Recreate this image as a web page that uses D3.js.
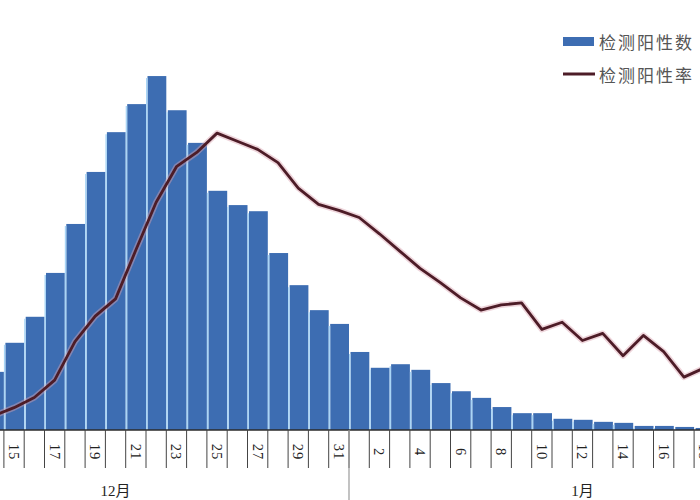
<!DOCTYPE html>
<html><head><meta charset="utf-8">
<script src="https://cdn.jsdelivr.net/npm/d3@7"></script>
<style>
html,body{margin:0;padding:0;background:#fff;overflow:hidden;}
svg{display:block;}
</style></head>
<body>
<script>
// categories: dates (month/day) visible in the chart
const categories = [
  "12/14","12/15","12/16","12/17","12/18","12/19","12/20","12/21","12/22","12/23",
  "12/24","12/25","12/26","12/27","12/28","12/29","12/30","12/31",
  "1/1","1/2","1/3","1/4","1/5","1/6","1/7","1/8","1/9","1/10",
  "1/11","1/12","1/13","1/14","1/15","1/16","1/17","1/18"
];
// 检测阳性数 (万)
const positiveCount = [
  11.4,17.1,22.2,30.8,40.4,50.6,58.4,63.9,69.4,62.7,
  56.3,46.9,44.1,42.9,34.7,28.4,23.5,20.8,
  15.3,12.2,12.9,11.8,9.2,7.6,6.3,4.5,3.3,3.3,
  2.2,2.0,1.6,1.4,0.8,0.8,0.6,0.4
];
// 检测阳性率 (%)
const positiveRate = [
  1.4,2.2,3.2,4.9,8.7,11.2,12.9,17.7,22.4,25.9,
  27.3,29.2,28.4,27.6,26.3,23.8,22.2,21.6,
  20.9,19.3,17.6,15.9,14.5,13.0,11.8,12.3,12.5,9.9,
  10.6,8.8,9.5,7.3,9.3,7.7,5.2,6.1
];
// tick labels shown on the axis
const tickLabels = [
  "12/15","12/17","12/19","12/21","12/23","12/25","12/27","12/29","12/31",
  "1/2","1/4","1/6","1/8","1/10","1/12","1/14","1/16","1/18"
];
const monthLabels = ["12月","1月"];
const monthAnchors = ["12/20","1/12"];
const legendLabels = ["检测阳性数","检测阳性率"];

const W = 700, H = 500;
const baseY = 430;
const svg = d3.select("body").append("svg").attr("width", W).attr("height", H);

const x = d3.scaleBand().domain(categories).range([-16.4, 714.4]).paddingInner(0).paddingOuter(0);
const yBar = d3.scaleLinear().domain([0, 70]).range([baseY, baseY - 357]);
const yRate = d3.scaleLinear().domain([0, 30]).range([baseY, baseY - 305]);

const data = categories.map((c, i) => ({c, v: positiveCount[i], r: positiveRate[i]}));

const barColor = "#3d6db2";
const gapColor = "#a9d5f6";
const lineColor = "#4d1c27";

// bars
const bw = x.bandwidth();
svg.append("g").selectAll("rect").data(data).join("rect")
  .attr("x", d => x(d.c) + 1.5)
  .attr("y", d => yBar(d.v))
  .attr("width", bw - 1.5)
  .attr("height", d => baseY - yBar(d.v))
  .attr("fill", barColor);
// light separators between bars
svg.append("g").selectAll("line").data(data).join("line")
  .attr("x1", d => x(d.c) + 0.75).attr("x2", d => x(d.c) + 0.75)
  .attr("y1", d => yBar(d.v) + 2).attr("y2", baseY)
  .attr("stroke", gapColor).attr("stroke-width", 1.5);

// line
const line = d3.line().x(d => x(d.c) + bw / 2).y(d => yRate(d.r));
svg.append("path").datum(data).attr("d", line)
  .attr("fill", "none").attr("stroke", "#d9a2b0").attr("stroke-opacity", 0.45)
  .attr("stroke-width", 6).attr("stroke-linejoin", "round");
svg.append("path").datum(data).attr("d", line)
  .attr("fill", "none").attr("stroke", lineColor)
  .attr("stroke-width", 2.8).attr("stroke-linejoin", "round");

// axis
const axisG = svg.append("g");
axisG.append("line").attr("x1", 0).attr("x2", W).attr("y1", baseY).attr("y2", baseY)
  .attr("stroke", "#2b2b2b").attr("stroke-width", 1.6);
const bounds = categories.map(c => x(c)).concat([x(categories[categories.length - 1]) + bw]);
axisG.selectAll("line.tk").data(bounds).join("line").attr("class", "tk")
  .attr("x1", d => d).attr("x2", d => d)
  .attr("y1", baseY).attr("y2", baseY + 38)
  .attr("stroke", "#444").attr("stroke-width", 1);
// month separator
const sep = x("1/1");
axisG.append("line").attr("x1", sep).attr("x2", sep).attr("y1", baseY).attr("y2", H)
  .attr("stroke", "#9a9a9a").attr("stroke-width", 1.2);

axisG.selectAll("text.tl").data(tickLabels).join("text").attr("class", "tl")
  .attr("transform", d => `translate(${x(d) + bw / 2},${baseY + 22}) rotate(90)`)
  .attr("text-anchor", "middle").attr("dominant-baseline", "central")
  .attr("font-family", "'Liberation Serif','DejaVu Serif',serif")
  .attr("font-size", 14.5).attr("letter-spacing", 1).attr("fill", "#222")
  .text(d => d.split("/")[1]);

axisG.selectAll("text.ml").data(monthLabels).join("text").attr("class", "ml")
  .attr("x", (d, i) => x(monthAnchors[i]) + bw / 2)
  .attr("y", 491)
  .attr("text-anchor", "middle").attr("dominant-baseline", "central")
  .attr("font-family", "'Liberation Serif','Noto Sans CJK SC',serif")
  .attr("font-size", 15).attr("fill", "#222")
  .text(d => d);

// legend
const lg = svg.append("g");
lg.append("rect").attr("x", 563).attr("y", 37).attr("width", 31).attr("height", 9).attr("fill", barColor);
lg.append("line").attr("x1", 563).attr("x2", 595).attr("y1", 74).attr("y2", 74)
  .attr("stroke", lineColor).attr("stroke-width", 3);
lg.selectAll("text").data(legendLabels).join("text")
  .attr("x", 599).attr("y", (d, i) => i === 0 ? 41 : 74)
  .attr("dominant-baseline", "central")
  .attr("font-family", "'Noto Sans CJK SC',sans-serif")
  .attr("font-size", 17).attr("letter-spacing", 2).attr("fill", "#555")
  .text(d => d);
</script>
</body></html>
